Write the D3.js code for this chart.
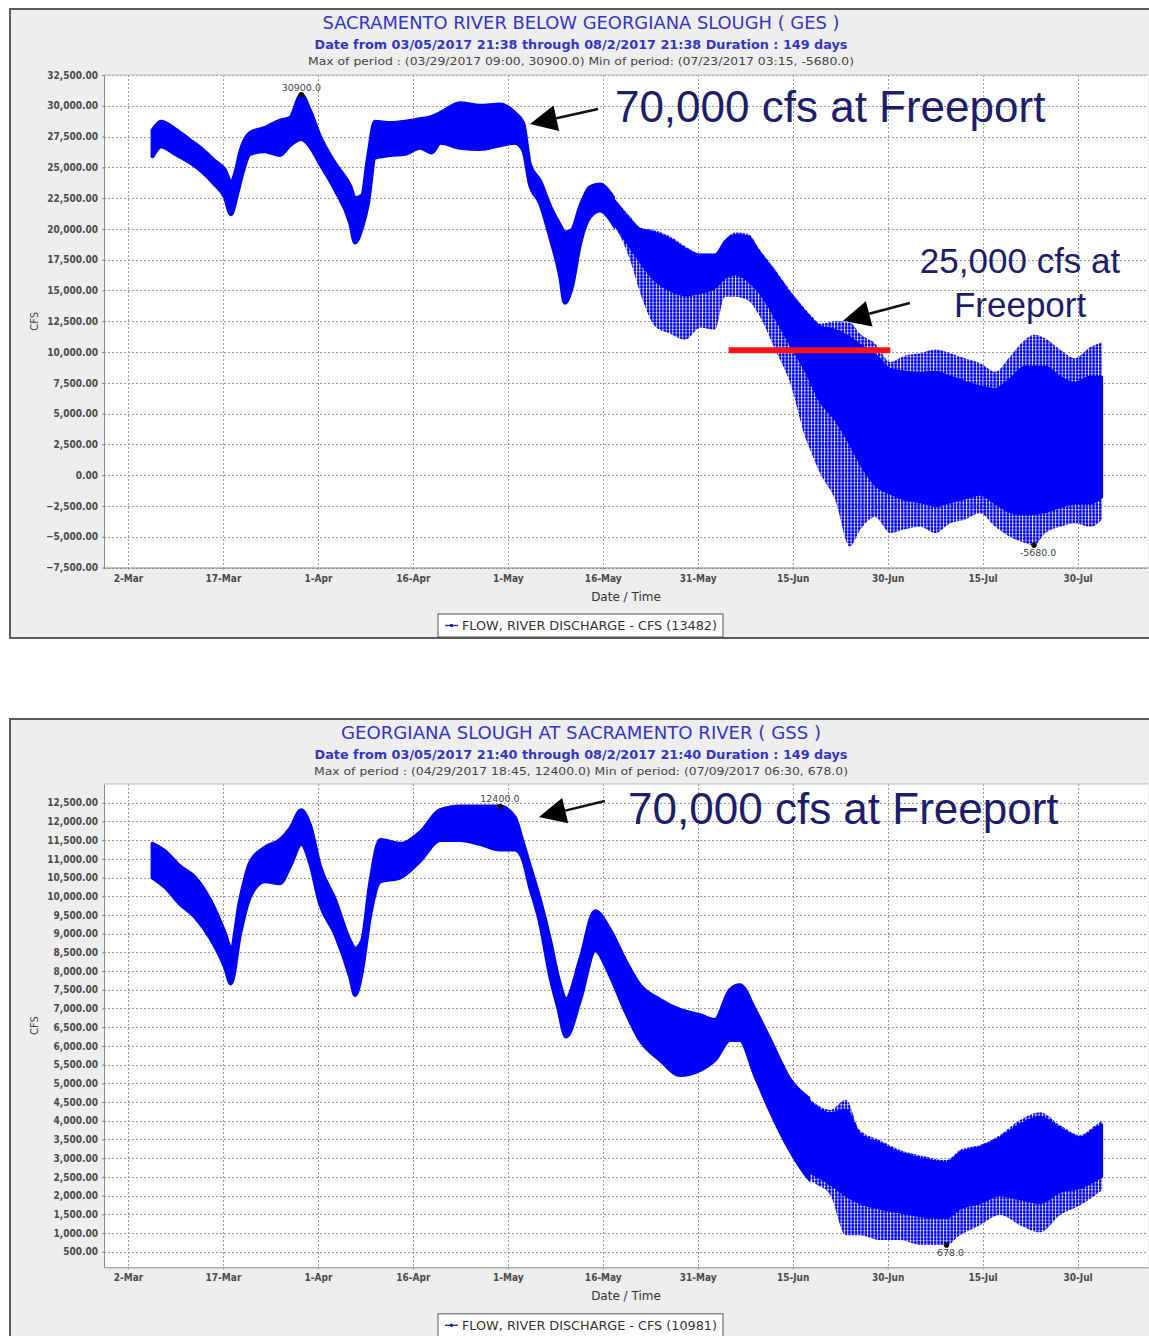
<!DOCTYPE html>
<html>
<head>
<meta charset="utf-8">
<script src="https://cdn.jsdelivr.net/npm/d3@7"></script>
<style>
  body { margin: 0; background: #fff; }
  text { font-family: "DejaVu Sans", sans-serif; }
</style>
</head>
<body>
<svg id="chart" width="1149" height="1336"></svg>
<script>
// ---- shared axis data ----
var xDomain = ["2017-02-26T05", "2017-08-10T03"];
var xTickDates = ["2017-03-02T00", "2017-03-17T00", "2017-04-01T00", "2017-04-16T00", "2017-05-01T00", "2017-05-16T00",
                  "2017-05-31T00", "2017-06-15T00", "2017-06-30T00", "2017-07-15T00", "2017-07-30T00"];

// ---- Sacramento River below Georgiana Slough (GES) ----
var gesYTicks = [-7500, -5000, -2500, 0, 2500, 5000, 7500, 10000, 12500, 15000, 17500, 20000, 22500, 25000, 27500, 30000, 32500];
// tidal envelope (upper / lower) of the 15-min record
var gesDates = ["2017-03-05T21","2017-03-07T05","2017-03-09T10","2017-03-11T19","2017-03-13T09","2017-03-15T18","2017-03-17T07","2017-03-18T06","2017-03-19T02","2017-03-19T17",
  "2017-03-21T07","2017-03-23T15","2017-03-26T00","2017-03-27T14","2017-03-29T09","2017-03-30T18","2017-04-01T08","2017-04-03T17","2017-04-06T02","2017-04-06T21",
  "2017-04-07T23","2017-04-08T22","2017-04-10T00","2017-04-12T10","2017-04-14T19","2017-04-17T03","2017-04-19T00","2017-04-20T07","2017-04-23T11","2017-04-26T14",
  "2017-04-29T19","2017-05-02T03","2017-05-03T10","2017-05-04T12","2017-05-06T02","2017-05-07T17","2017-05-09T06","2017-05-10T00","2017-05-11T03","2017-05-12T10",
  "2017-05-14T00","2017-05-15T14","2017-05-17T22","2017-05-20T07","2017-05-21T22","2017-05-24T06","2017-05-26T14","2017-05-29T00","2017-05-31T10","2017-06-02T17",
  "2017-06-04T07","2017-06-05T22","2017-06-07T22","2017-06-09T19","2017-06-12T05","2017-06-14T14","2017-06-16T23","2017-06-18T05","2017-06-19T07","2017-06-21T17",
  "2017-06-24T01","2017-06-25T14","2017-06-28T00","2017-06-30T10","2017-07-02T17","2017-07-05T02","2017-07-07T12","2017-07-09T22","2017-07-12T05","2017-07-14T14",
  "2017-07-17T00","2017-07-19T07","2017-07-21T17","2017-07-23T03","2017-07-24T22","2017-07-27T05","2017-07-29T14","2017-08-01T00","2017-08-02T21"];
var gesHigh = [28000,28700,28100,27200,26600,25500,24800,23800,24800,26200,
  27800,28200,28800,29000,30900,29600,27500,25300,23500,22500,
  22700,25800,28700,28600,28700,28900,29100,29400,30200,30000,
  30100,29400,28600,25200,23900,21800,20300,19700,19900,21800,
  23400,23600,22400,21000,20100,19900,19400,18600,18000,18000,
  19100,19700,19600,18300,16700,15000,13500,12800,12300,12500,
  12400,11500,10700,9200,9700,9900,10200,9900,9500,9100,
  8400,9600,11000,11400,11100,10200,9500,10400,10800];
var gesLow = [25900,26700,26100,25400,24800,23600,22600,21200,22500,23800,
  26100,26300,26000,26800,27300,26700,25300,23200,20500,18900,
  20100,22100,25800,26000,26100,26600,26200,27000,26600,26500,
  26800,27000,26400,23600,22100,19300,16200,14000,15300,18800,
  21000,21500,20200,17500,14800,12100,11500,11000,12000,11800,
  14500,14500,14200,12900,10200,7500,3100,1500,200,-2000,
  -5800,-4500,-3400,-4700,-4400,-4200,-4700,-3900,-3600,-3100,
  -4200,-5000,-5500,-5680,-4700,-4200,-3900,-4200,-3600];
// dense part of the tidal band once the cycles spread out
var gesCoreDates = ["2017-05-17T22","2017-05-20T07","2017-05-21T22","2017-05-24T06","2017-05-26T14","2017-05-29T00","2017-05-31T10","2017-06-02T17","2017-06-04T07","2017-06-05T22",
  "2017-06-07T22","2017-06-09T19","2017-06-12T05","2017-06-14T14","2017-06-16T23","2017-06-19T07","2017-06-21T17","2017-06-24T01","2017-06-25T14","2017-06-28T00",
  "2017-06-30T10","2017-07-02T17","2017-07-05T02","2017-07-07T12","2017-07-09T22","2017-07-12T05","2017-07-14T14","2017-07-17T00","2017-07-19T07","2017-07-21T17",
  "2017-07-24T22","2017-07-27T05","2017-07-29T14","2017-08-01T00","2017-08-02T21"];
var gesCoreHigh = [22300,20800,20000,19700,19200,18400,17900,17900,19000,19500,
  19400,18100,16500,14800,13300,12100,11800,11200,10600,9800,
  8600,8400,8300,8400,8000,7600,7200,7000,7800,8800,
  8800,8000,7500,8000,8000];
var gesCoreLow = [20300,18500,17300,15800,15000,14600,14800,15200,16000,16300,
  15800,14800,12800,10600,8500,6000,4500,2500,1000,-800,
  -1500,-2000,-2200,-2500,-2200,-1900,-1600,-2300,-3000,-3200,
  -3000,-2600,-2300,-2300,-1800];
var gesMax = { date: "2017-03-29T09", value: 30900, label: "30900.0" };
var gesMin = { date: "2017-07-23T03", value: -5680, label: "-5680.0" };

// ---- Georgiana Slough at Sacramento River (GSS) ----
var gssYTicks = [500, 1000, 1500, 2000, 2500, 3000, 3500, 4000, 4500, 5000, 5500, 6000, 6500, 7000, 7500, 8000, 8500, 9000,
                 9500, 10000, 10500, 11000, 11500, 12000, 12500];
var gssDates = ["2017-03-05T21","2017-03-07T20","2017-03-10T05","2017-03-12T14","2017-03-14T23","2017-03-17T08","2017-03-18T06","2017-03-19T17","2017-03-21T07","2017-03-23T15",
  "2017-03-26T00","2017-03-27T14","2017-03-29T09","2017-03-30T18","2017-04-01T08","2017-04-03T17","2017-04-06T02","2017-04-06T21","2017-04-07T23","2017-04-09T05",
  "2017-04-10T20","2017-04-13T23","2017-04-17T03","2017-04-20T07","2017-04-23T11","2017-04-26T14","2017-04-29T18","2017-05-02T03","2017-05-03T06","2017-05-04T12",
  "2017-05-06T02","2017-05-07T17","2017-05-08T22","2017-05-10T05","2017-05-12T10","2017-05-14T19","2017-05-17T03","2017-05-19T12","2017-05-21T21","2017-05-25T01",
  "2017-05-28T05","2017-05-31T09","2017-06-02T17","2017-06-05T02","2017-06-06T16","2017-06-09T01","2017-06-11T10","2017-06-14T14","2017-06-17T19","2017-06-20T23",
  "2017-06-23T09","2017-06-25T14","2017-06-28T19","2017-07-01T23","2017-07-05T03","2017-07-09T07","2017-07-11T10","2017-07-14T14","2017-07-17T18","2017-07-20T22",
  "2017-07-24T02","2017-07-27T06","2017-07-30T10","2017-08-01T19","2017-08-02T21"];
var gssHigh = [11400,11200,10800,10500,9900,9000,8600,9900,10900,11300,
  11500,11800,12300,11900,10800,9900,8800,8600,8800,10300,
  11500,11400,11700,12300,12400,12400,12400,12100,11500,10800,
  9900,8800,7850,7250,8300,9600,9100,8300,7620,7230,
  6960,6820,6690,7490,7620,6960,6160,5090,4560,4290,
  4560,3750,3480,3220,3080,2950,3220,3350,3620,4020,
  4230,3880,3620,3880,4000];
var gssLow = [10500,10250,9800,9450,8900,8100,7670,9000,10000,10400,
  10350,10800,11400,10900,9800,9000,7850,7360,8000,9450,
  10400,10500,10950,11500,11500,11400,11250,11250,11050,10250,
  9300,7850,7050,6250,7230,8560,7900,6960,6160,5630,
  5220,5360,5630,6160,6160,5220,4290,3220,2420,2010,
  940,940,810,810,680,678,940,1210,1480,1210,
  1020,1480,1740,2010,2150];
var gssCoreDates = ["2017-06-17T19","2017-06-20T23","2017-06-23T09","2017-06-25T14","2017-06-28T19","2017-07-01T23","2017-07-05T03","2017-07-09T07","2017-07-11T10",
  "2017-07-14T14","2017-07-17T18","2017-07-20T22","2017-07-24T02","2017-07-27T06","2017-07-30T10","2017-08-01T19","2017-08-02T21"];
var gssCoreHigh = [4500,4200,4300,3650,3400,3150,3000,2880,3150,3300,3550,3900,4100,3800,3550,3800,3900];
var gssCoreLow = [2600,2300,2000,1800,1650,1550,1450,1400,1650,1800,2000,1900,1800,2100,2200,2400,2500];
var gssMax = { date: "2017-04-29T18", value: 12400, label: "12400.0" };
var gssMin = { date: "2017-07-09T07", value: 678, label: "678.0" };

var BLUE = "#0000ff";
var TITLE_BLUE = "#3434c8";
var NOTE_BLUE = "#1d1d6b";
var parseTime = d3.timeParse("%Y-%m-%dT%H");
var fmtTick = d3.format(",.2f");
var fmtDate = d3.timeFormat("%-d-%b");

var charts = [
  {
    id: "ges", frameTop: 9, frameHeight: 629, top: 75, bottom: 567.5,
    title: "SACRAMENTO RIVER BELOW GEORGIANA SLOUGH ( GES )", titleLen: 517,
    subtitle: "Date from 03/05/2017 21:38 through 08/2/2017 21:38 Duration : 149 days",
    period: "Max of period : (03/29/2017 09:00, 30900.0)  Min of period: (07/23/2017 03:15,  -5680.0)", periodLen: 546,
    legend: "FLOW, RIVER DISCHARGE - CFS (13482)",
    yDomain: [-7500, 32500], yTicks: gesYTicks,
    dates: gesDates, high: gesHigh, low: gesLow,
    coreDates: gesCoreDates, coreHigh: gesCoreHigh, coreLow: gesCoreLow,
    max: gesMax, min: gesMin,
    notes: [
      { lines: ["70,000 cfs at Freeport"], size: 44, date: "2017-05-17T22", value: 28650, anchor: "start",
        tip: ["2017-05-04T12", 28520], tail: ["2017-05-15T06", 29740] },
      { lines: ["25,000 cfs at", "Freeport"], size: 35, date: "2017-07-20T22", value: 16380, anchor: "middle",
        tip: ["2017-06-22T23", 12540], tail: ["2017-07-03T12", 13980] }
    ],
    redLine: { from: "2017-06-04T21", to: "2017-06-30T10", value: 10150 }
  },
  {
    id: "gss", frameTop: 719, frameHeight: 660, top: 784, bottom: 1267.3,
    title: "GEORGIANA SLOUGH AT SACRAMENTO RIVER ( GSS )", titleLen: 480,
    subtitle: "Date from 03/05/2017 21:40 through 08/2/2017 21:40 Duration : 149 days",
    period: "Max of period : (04/29/2017 18:45, 12400.0)  Min of period: (07/09/2017 06:30,  678.0)", periodLen: 534,
    legend: "FLOW, RIVER DISCHARGE - CFS (10981)",
    yDomain: [83, 13000], yTicks: gssYTicks,
    dates: gssDates, high: gssHigh, low: gssLow,
    coreDates: gssCoreDates, coreHigh: gssCoreHigh, coreLow: gssCoreLow,
    max: gssMax, min: gssMin,
    notes: [
      { lines: ["70,000 cfs at Freeport"], size: 44, date: "2017-05-20T00", value: 11940, anchor: "start",
        tip: ["2017-05-05T22", 12118], tail: ["2017-05-16T08", 12545] }
    ],
    redLine: null
  }
];

var svg = d3.select("#chart");
var defs = svg.append("defs");
// dotted vertical stripes: one column per tidal cycle
defs.append("pattern").attr("id", "tide").attr("patternUnits", "userSpaceOnUse")
    .attr("width", 3.3).attr("height", 3.4)
  .append("rect").attr("width", 2.7).attr("height", 3.1).attr("rx", 0.9).attr("fill", BLUE);

var PLOT_L = 104, PLOT_R = 1148;

charts.forEach(function(c) {
  var g = svg.append("g").attr("id", c.id);
  var x = d3.scaleTime().domain(xDomain.map(parseTime)).range([PLOT_L, PLOT_R]);
  var y = d3.scaleLinear().domain(c.yDomain).range([c.bottom, c.top]);
  var cx = (PLOT_L + PLOT_R) / 2;

  // chart frame
  g.append("rect").attr("x", 10).attr("y", c.frameTop).attr("width", 1170).attr("height", c.frameHeight)
    .attr("fill", "#eeeeee").attr("stroke", "#5c5c5c").attr("stroke-width", 2);

  // titles
  g.append("text").attr("x", 581).attr("y", c.frameTop + 19.5).attr("text-anchor", "middle")
    .attr("font-size", 17).attr("fill", TITLE_BLUE).attr("font-stretch", "condensed")
    .attr("textLength", c.titleLen).attr("lengthAdjust", "spacingAndGlyphs").text(c.title);
  g.append("text").attr("x", 581).attr("y", c.frameTop + 39.5).attr("text-anchor", "middle")
    .attr("font-size", 12).attr("font-weight", "bold").attr("fill", TITLE_BLUE)
    .attr("textLength", 533).attr("lengthAdjust", "spacingAndGlyphs").text(c.subtitle);
  g.append("text").attr("x", 581).attr("y", c.frameTop + 55.5).attr("text-anchor", "middle")
    .attr("font-size", 10).attr("fill", "#444")
    .attr("textLength", c.periodLen).attr("lengthAdjust", "spacingAndGlyphs").text(c.period);

  // plot area
  g.append("rect").attr("x", PLOT_L).attr("y", c.top).attr("width", PLOT_R - PLOT_L).attr("height", c.bottom - c.top)
    .attr("fill", "#fff");

  var grid = g.append("g").attr("stroke", "#9a9a9a").attr("stroke-width", 1).attr("stroke-dasharray", "2,2");
  grid.selectAll("line.h").data(c.yTicks).enter().append("line")
    .attr("x1", PLOT_L).attr("x2", PLOT_R)
    .attr("y1", function(d) { return Math.round(y(d)) + 0.5; })
    .attr("y2", function(d) { return Math.round(y(d)) + 0.5; });
  grid.selectAll("line.v").data(xTickDates).enter().append("line")
    .attr("y1", c.top).attr("y2", c.bottom)
    .attr("x1", function(d) { return Math.round(x(parseTime(d))) + 0.5; })
    .attr("x2", function(d) { return Math.round(x(parseTime(d))) + 0.5; });

  // clip regions: solid band before the tidal cycles spread, dotted stripes after
  var split = x(parseTime(c.coreDates[0]));
  defs.append("clipPath").attr("id", c.id + "-solid").append("rect")
    .attr("x", PLOT_L).attr("y", c.top).attr("width", split - PLOT_L).attr("height", c.bottom - c.top);
  defs.append("clipPath").attr("id", c.id + "-stripe").append("rect")
    .attr("x", split).attr("y", c.top).attr("width", PLOT_R - split).attr("height", c.bottom - c.top);

  var band = c.dates.map(function(d, i) { return { t: parseTime(d), hi: c.high[i], lo: c.low[i] }; });
  var core = c.coreDates.map(function(d, i) { return { t: parseTime(d), hi: c.coreHigh[i], lo: c.coreLow[i] }; });
  var area = d3.area()
    .curve(d3.curveMonotoneX)
    .x(function(d) { return x(d.t); })
    .y0(function(d) { return y(d.lo); })
    .y1(function(d) { return y(d.hi); });

  g.append("path").datum(band).attr("d", area)
    .attr("fill", BLUE).attr("stroke", BLUE).attr("stroke-width", 4).attr("stroke-linejoin", "round")
    .attr("clip-path", "url(#" + c.id + "-solid)");
  g.append("path").datum(band).attr("d", area)
    .attr("fill", "url(#tide)")
    .attr("clip-path", "url(#" + c.id + "-stripe)");
  g.append("path").datum(core).attr("d", area)
    .attr("fill", BLUE).attr("stroke", BLUE).attr("stroke-width", 2).attr("stroke-linejoin", "round");

  // axes
  var yAxis = d3.axisLeft(y).tickValues(c.yTicks).tickFormat(fmtTick).tickSizeInner(2).tickSizeOuter(0).tickPadding(4);
  var xAxis = d3.axisBottom(x).tickValues(xTickDates.map(parseTime)).tickFormat(fmtDate).tickSizeInner(2).tickSizeOuter(0).tickPadding(5);
  var ya = g.append("g").attr("transform", "translate(" + PLOT_L + ",0)").call(yAxis);
  var xa = g.append("g").attr("transform", "translate(0," + c.bottom + ")").call(xAxis);
  [ya, xa].forEach(function(a) {
    a.select(".domain").attr("stroke", "#8a8a8a");
    a.selectAll(".tick line").attr("stroke", "#8a8a8a");
    a.selectAll(".tick text").attr("fill", "#4a4a4a").attr("font-size", 10).attr("font-weight", "bold")
      .attr("font-family", "'DejaVu Sans Condensed', 'DejaVu Sans', sans-serif").attr("font-stretch", "condensed");
  });
  ya.append("line").attr("x1", 0).attr("x2", PLOT_R - PLOT_L).attr("y1", c.top).attr("y2", c.top).attr("stroke", "#bdbdbd");

  g.append("text").attr("transform", "translate(38," + ((c.top + c.bottom) / 2) + ") rotate(-90)")
    .attr("text-anchor", "middle").attr("font-size", 10).attr("fill", "#444").text("CFS");
  g.append("text").attr("x", cx).attr("y", c.bottom + 33).attr("text-anchor", "middle")
    .attr("font-size", 12).attr("fill", "#333").text("Date / Time");

  // max / min markers
  [[c.max, -4, 0], [c.min, 11, 4]].forEach(function(m) {
    var px = x(parseTime(m[0].date)), py = y(m[0].value);
    g.append("circle").attr("cx", px).attr("cy", py).attr("r", 2.8).attr("fill", "#111");
    g.append("text").attr("x", px + m[2]).attr("y", py + m[1]).attr("text-anchor", "middle")
      .attr("font-size", 9.5).attr("fill", "#444").text(m[0].label);
  });

  // red reference line
  if (c.redLine) {
    g.append("line")
      .attr("x1", x(parseTime(c.redLine.from))).attr("x2", x(parseTime(c.redLine.to)))
      .attr("y1", y(c.redLine.value)).attr("y2", y(c.redLine.value))
      .attr("stroke", "#f4141a").attr("stroke-width", 6);
  }

  // annotations with arrows
  c.notes.forEach(function(n) {
    var t = g.append("text").attr("x", x(parseTime(n.date))).attr("y", y(n.value))
      .attr("text-anchor", n.anchor).attr("font-size", n.size).attr("fill", NOTE_BLUE)
      .style("font-family", "'Liberation Sans', Arial, sans-serif");
    n.lines.forEach(function(l, i) {
      t.append("tspan").attr("x", x(parseTime(n.date))).attr("dy", i === 0 ? 0 : n.size * 1.25).text(l);
    });
    var x2 = x(parseTime(n.tip[0])), y2 = y(n.tip[1]);
    var x1 = x(parseTime(n.tail[0])), y1 = y(n.tail[1]);
    var a = Math.atan2(y2 - y1, x2 - x1), L = 27, W = 13;
    var bx = x2 - L * Math.cos(a), by = y2 - L * Math.sin(a);
    g.append("line").attr("x1", x1).attr("y1", y1).attr("x2", bx).attr("y2", by)
      .attr("stroke", "#111").attr("stroke-width", 2.5);
    g.append("path")
      .attr("d", "M" + x2 + "," + y2 +
        "L" + (bx + W * Math.sin(a)) + "," + (by - W * Math.cos(a)) +
        "L" + (bx - W * Math.sin(a)) + "," + (by + W * Math.cos(a)) + "Z")
      .attr("fill", "#000");
  });

  // legend
  var ly = c.bottom + 46.5;
  var lg = g.append("g").attr("transform", "translate(438," + ly + ")");
  lg.append("rect").attr("width", 285).attr("height", 23).attr("fill", "#fff").attr("stroke", "#555");
  lg.append("line").attr("x1", 7).attr("x2", 20).attr("y1", 11.5).attr("y2", 11.5).attr("stroke", "#2020aa").attr("stroke-width", 1.3);
  lg.append("circle").attr("cx", 13.5).attr("cy", 11.5).attr("r", 1.8).attr("fill", "#2020aa");
  lg.append("text").attr("x", 24).attr("y", 16).attr("font-size", 12).attr("fill", "#333")
    .attr("textLength", 255).attr("lengthAdjust", "spacingAndGlyphs").text(c.legend);
});
</script>
</body>
</html>
